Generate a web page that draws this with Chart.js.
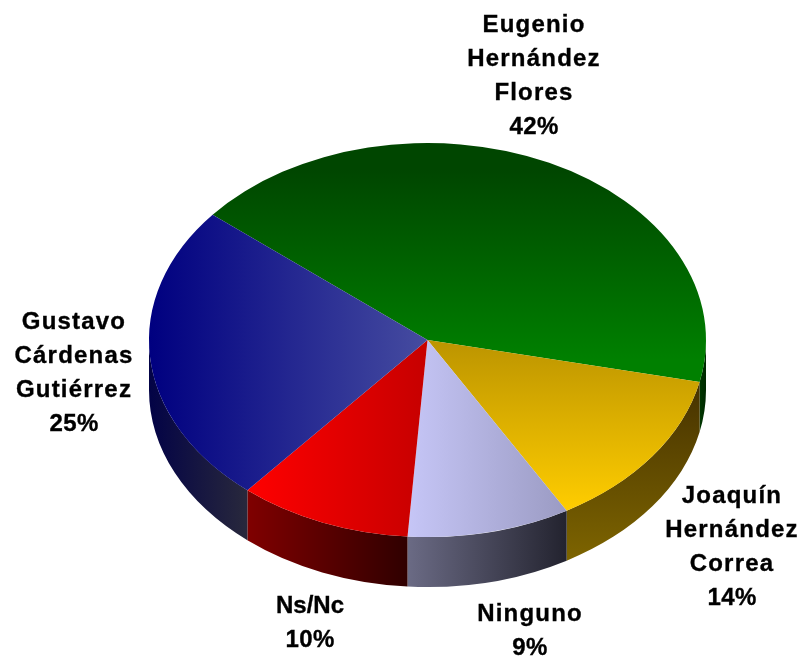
<!DOCTYPE html>
<html lang="es">
<head>
<meta charset="utf-8">
<title>Pie</title>
<style>html,body{margin:0;padding:0;background:#fff}canvas{display:block}</style>
<script src="https://cdn.jsdelivr.net/npm/chart.js@4/dist/chart.umd.min.js"></script>
</head>
<body>
<canvas id="c" width="803" height="656"></canvas>
<script>
const categories = ["Eugenio Hernández Flores","Joaquín Hernández Correa","Ninguno","Ns/Nc","Gustavo Cárdenas Gutiérrez"];
const shares = [42.45,13.25,9.47,10.05,24.78];
const percentLabels = ["42%","14%","9%","10%","25%"];
const topFrom = ["#004600","#be9600","#c6c6f7","#ff0000","#000080"];
const topTo = ["#008000","#ffcd00","#9b9bc3","#c80000","#464ca0"];
const wallFrom = ["#003c00","#463200","#6b6b85","#800000","#030346"];
const wallTo = ["#002800","#7d6400","#23232f","#300000","#28283c"];

const SY = 197/278.5, DEPTH = 50, CY = 340;
const vertical = [true,true,false,false,false];
const topBox = [[170,360],[345,511],[407,566],[247,422],[150,427]];
const wallBox = [[698,706],[382,560],[407,566],[247,407],[150,247]];
const labelLayout = [
  {x:534,y:32,lines:["Eugenio","Hernández","Flores"],sp:1.2},
  {x:732,y:503,lines:["Joaquín","Hernández","Correa"],sp:1.2},
  {x:530,y:621,lines:["Ninguno"],sp:1.2},
  {x:310,y:613,lines:["Ns/Nc"],sp:0},
  {x:74,y:329,lines:["Gustavo","Cárdenas","Gutiérrez"],sp:1.2}
];

const cv = document.getElementById('c');
const g2 = cv.getContext('2d');
function topGradient(i){
  const [a,b] = topBox[i];
  const g = vertical[i]
    ? g2.createLinearGradient(0, CY+(a-CY)/SY, 0, CY+(b-CY)/SY)
    : g2.createLinearGradient(a, 0, b, 0);
  g.addColorStop(0, topFrom[i]); g.addColorStop(1, topTo[i]);
  return g;
}
function wallGradient(ctx,i){
  const [a,b] = wallBox[i];
  const g = i===1 ? ctx.createLinearGradient(0,a,0,b) : ctx.createLinearGradient(a,0,b,0);
  g.addColorStop(0, wallFrom[i]); g.addColorStop(1, wallTo[i]);
  return g;
}
const pie3d = {
  id:'pie3d',
  beforeDatasetsDraw(chart){
    const ctx = chart.ctx, arcs = chart.getDatasetMeta(0).data, PI2 = Math.PI*2;
    arcs.forEach((arc,i)=>{
      const {x,y,startAngle,endAngle,outerRadius:r} = arc.getProps(['x','y','startAngle','endAngle','outerRadius'],true);
      const ry = r*SY;
      for(let k=-1;k<=1;k++){
        const a0 = Math.max(startAngle+k*PI2,0), a1 = Math.min(endAngle+k*PI2,Math.PI);
        if(a1<=a0) continue;
        ctx.save();
        ctx.beginPath();
        ctx.ellipse(x,y,r,ry,0,a0,a1,false);
        ctx.ellipse(x,y+DEPTH,r,ry,0,a1,a0,true);
        ctx.closePath();
        ctx.fillStyle = wallGradient(ctx,i);
        ctx.fill();
        ctx.restore();
      }
    });
  },
  beforeDatasetDraw(chart){
    const ctx = chart.ctx;
    ctx.save();
    ctx.translate(0,CY); ctx.scale(1,SY); ctx.translate(0,-CY);
  },
  afterDatasetDraw(chart){ chart.ctx.restore(); },
  afterDatasetsDraw(chart){
    const ctx = chart.ctx;
    ctx.save();
    ctx.fillStyle = '#000';
    ctx.strokeStyle = '#000';
    ctx.lineWidth = 0.35;
    ctx.textAlign = 'center';
    ctx.textBaseline = 'alphabetic';
    ctx.font = 'bold 24px "Liberation Sans"';
    const put = (t,x,y)=>{ ctx.fillText(t,x,y); ctx.strokeText(t,x,y); };
    labelLayout.forEach((l,i)=>{
      let y = l.y;
      l.lines.forEach(t=>{ ctx.letterSpacing = l.sp+'px'; put(t,l.x,y); y += 34; });
      ctx.letterSpacing = '0.4px';
      put(percentLabels[i],l.x,y);
    });
    ctx.restore();
  }
};
new Chart(cv,{
  type:'pie',
  data:{labels:categories,datasets:[{data:shares,backgroundColor:shares.map((_,i)=>topGradient(i)),borderWidth:0,hoverOffset:0}]},
  options:{
    responsive:false,animation:false,rotation:309.5,
    layout:{padding:{left:149,right:97,top:24,bottom:0}},
    plugins:{legend:{display:false},tooltip:{enabled:false}}
  },
  plugins:[pie3d]
});
</script>
</body>
</html>
